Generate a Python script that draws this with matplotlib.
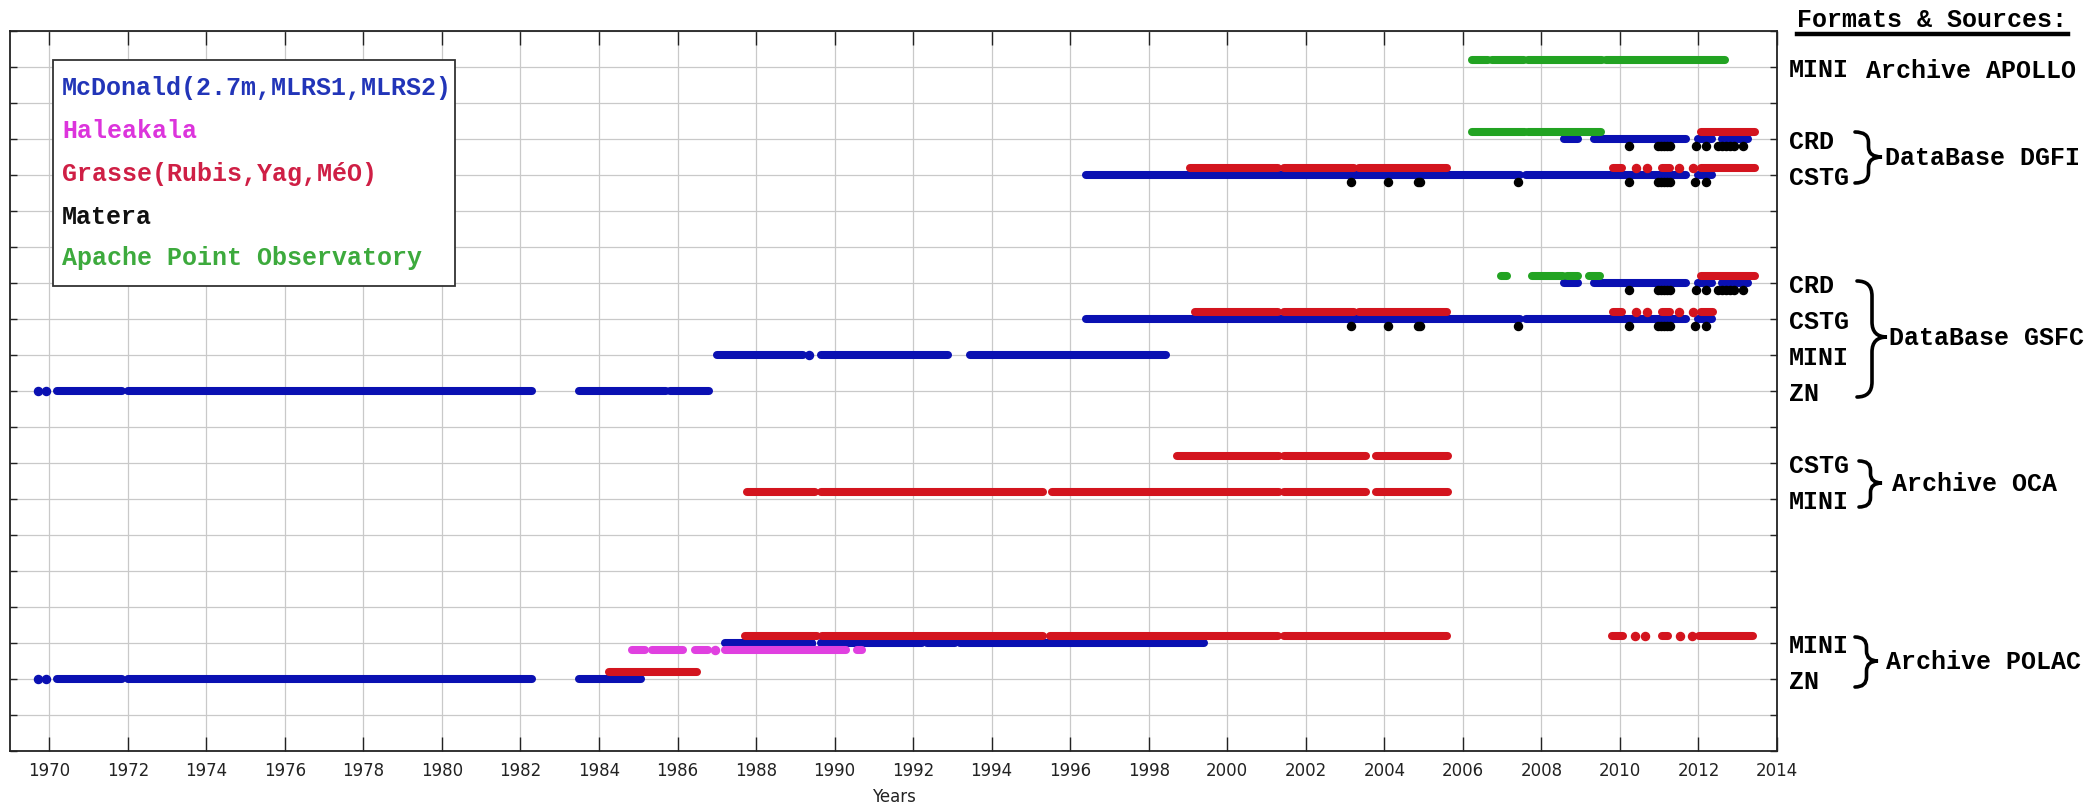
import matplotlib
matplotlib.use('Agg')
import matplotlib.pyplot as plt
from matplotlib.path import Path
from matplotlib.patches import PathPatch, Rectangle
from matplotlib.transforms import Affine2D

# ---------------- data ----------------
# row (y) position of each format/source line
row_apollo_mini = 19
row_dgfi_crd = 17
row_dgfi_cstg = 16
row_gsfc_crd = 13
row_gsfc_cstg = 12
row_gsfc_mini = 11
row_gsfc_zn = 10
row_oca_cstg = 8
row_oca_mini = 7
row_polac_mini = 3
row_polac_zn = 2

stations = ['McDonald(2.7m,MLRS1,MLRS2)', 'Haleakala', 'Grasse(Rubis,Yag,MéO)',
            'Matera', 'Apache Point Observatory']
station_offset = [0.0, -0.2, 0.2, -0.2, 0.2]

# McDonald (blue) : observation spans (start, end) and single points
mcd_gsfc_zn = [(1970.19, 1971.86), (1972.0, 1982.3), (1983.5, 1985.7), (1985.8, 1986.8)]
mcd_gsfc_zn_pts = [1969.71, 1969.92]
mcd_polac_zn = [(1970.19, 1971.86), (1972.0, 1982.3), (1983.5, 1985.08)]
mcd_polac_zn_pts = [1969.71, 1969.92]
mcd_gsfc_mini = [(1987.0, 1989.2), (1989.65, 1992.9), (1993.45, 1998.45)]
mcd_gsfc_mini_pts = [1989.35]
mcd_polac_mini = [(1987.22, 1989.3), (1989.65, 1992.22), (1992.36, 1993.07), (1993.2, 1999.4)]
mcd_polac_mini_pts = [1989.41]
mcd_cstg = [(1996.4, 2007.45), (2007.6, 2011.68), (2011.98, 2012.35)]
mcd_crd = [(2008.57, 2008.94), (2009.33, 2011.68), (2011.98, 2012.35), (2012.59, 2013.26)]

# Haleakala (magenta)
hal_polac_mini = [(1984.84, 1985.16), (1985.35, 1986.13), (1986.45, 1986.78), (1987.22, 1990.3),
                  (1990.56, 1990.69)]
hal_polac_mini_pts = [1986.95]

# Grasse (red)
gra_dgfi_cstg = [(1999.06, 2001.3), (2001.44, 2003.22), (2003.35, 2005.6), (2009.82, 2010.05),
                 (2011.08, 2011.28), (2012.06, 2013.44)]
gra_dgfi_cstg_pts = [2010.4, 2010.7, 2011.5, 2011.87]
gra_dgfi_crd = [(2012.06, 2013.44)]
gra_gsfc_cstg = [(1999.17, 2001.3), (2001.44, 2003.22), (2003.35, 2005.6), (2009.82, 2010.05),
                 (2011.08, 2011.28), (2012.06, 2012.38)]
gra_gsfc_cstg_pts = [2010.4, 2010.7, 2011.5, 2011.87]
gra_gsfc_crd = [(2012.06, 2013.44)]
gra_oca_cstg = [(1998.71, 2001.32), (2001.44, 2003.54), (2003.8, 2005.62)]
gra_oca_mini = [(1987.76, 1989.51), (1989.66, 1995.32), (1995.53, 2001.32), (2001.44, 2003.54),
                (2003.8, 2005.62)]
gra_polac_mini = [(1987.73, 1989.54), (1989.68, 1995.32), (1995.49, 2001.29), (2001.45, 2005.6),
                  (2009.8, 2010.07), (2011.06, 2011.23), (2012.01, 2013.39)]
gra_polac_mini_pts = [2010.38, 2010.65, 2011.52, 2011.83]
gra_polac_zn = [(1984.25, 1986.5)]

# Matera (black) : single points
mat_cstg_pts = [2003.14, 2004.09, 2004.86, 2004.92, 2007.4, 2010.23, 2010.97, 2011.05, 2011.12,
                2011.2, 2011.27, 2011.9, 2012.2]
mat_crd_pts = [2010.23, 2010.97, 2011.05, 2011.12, 2011.2, 2011.27, 2011.93, 2012.2, 2012.5,
               2012.6, 2012.7, 2012.8, 2012.9, 2013.14]

# Apache Point (green)
apo_apollo_mini = [(2006.22, 2006.65), (2006.75, 2007.55), (2007.65, 2009.55), (2009.65, 2012.68)]
apo_dgfi_crd = [(2006.22, 2007.58), (2007.66, 2009.52)]
apo_gsfc_crd = [(2006.97, 2007.13), (2007.77, 2008.55), (2008.65, 2008.93), (2009.2, 2009.48)]

# right-hand labels
format_labels = [('MINI', row_apollo_mini), ('CRD', row_dgfi_crd), ('CSTG', row_dgfi_cstg),
                 ('CRD', row_gsfc_crd), ('CSTG', row_gsfc_cstg), ('MINI', row_gsfc_mini),
                 ('ZN', row_gsfc_zn), ('CSTG', row_oca_cstg), ('MINI', row_oca_mini),
                 ('MINI', row_polac_mini), ('ZN', row_polac_zn)]
years_ticks = list(range(1970, 2015, 2))

# ---------------- style ----------------
W, H = 2088, 803
c_blue = '#0a10b2'
c_mag = '#e040e0'
c_red = '#d3141e'
c_black = '#000000'
c_green = '#22a322'
legend_colors = ['#2235b8', '#dc34dc', '#cf1f45', '#111111', '#3daa3d']
mono = ['Liberation Mono', 'DejaVu Sans Mono']
FS = 18

fig = plt.figure(figsize=(W / 100, H / 100), dpi=100)
ax_l, ax_r, ax_t, ax_b = 10, 1777, 32, 752
ax = fig.add_axes([ax_l / W, 1 - ax_b / H, (ax_r - ax_l) / W, (ax_b - ax_t) / H])
ax.set_xlim(1969, 2014)
ax.set_ylim(0, 20)
ax.set_xticks(years_ticks)
ax.set_yticks(range(0, 21))
ax.set_yticklabels([])
ax.grid(True, color='#c9c9c9', linewidth=0.9)
ax.set_axisbelow(True)
ax.tick_params(axis='x', direction='in', top=True, length=10, width=1.0, labelsize=12,
               pad=7, colors='#222222')
ax.tick_params(axis='y', direction='in', right=True, left=True, length=5, width=1.0,
               colors='#222222')
for s in ax.spines.values():
    s.set_linewidth(1.3)
    s.set_color('#222222')
ax.set_xlabel('Years', fontsize=12, labelpad=6, color='#222222')

LW = 5.8
MS = 5.8


def spans(seg, row, k, color):
    y = row + station_offset[k]
    ax.hlines([y] * len(seg), [a for a, b in seg], [b for a, b in seg], colors=color,
              linewidth=LW, capstyle='round', zorder=3 + k * 0.1)


def points(xs, row, k, color):
    y = row + station_offset[k]
    ax.plot(xs, [y] * len(xs), 'o', color=color, mec=color, ms=MS, zorder=3 + k * 0.1)


# McDonald
spans(mcd_gsfc_zn, row_gsfc_zn, 0, c_blue); points(mcd_gsfc_zn_pts, row_gsfc_zn, 0, c_blue)
spans(mcd_polac_zn, row_polac_zn, 0, c_blue); points(mcd_polac_zn_pts, row_polac_zn, 0, c_blue)
spans(mcd_gsfc_mini, row_gsfc_mini, 0, c_blue); points(mcd_gsfc_mini_pts, row_gsfc_mini, 0, c_blue)
spans(mcd_polac_mini, row_polac_mini, 0, c_blue); points(mcd_polac_mini_pts, row_polac_mini, 0, c_blue)
spans(mcd_cstg, row_dgfi_cstg, 0, c_blue); spans(mcd_cstg, row_gsfc_cstg, 0, c_blue)
spans(mcd_crd, row_dgfi_crd, 0, c_blue); spans(mcd_crd, row_gsfc_crd, 0, c_blue)
# Haleakala
spans(hal_polac_mini, row_polac_mini, 1, c_mag); points(hal_polac_mini_pts, row_polac_mini, 1, c_mag)
# Grasse
spans(gra_dgfi_cstg, row_dgfi_cstg, 2, c_red); points(gra_dgfi_cstg_pts, row_dgfi_cstg, 2, c_red)
spans(gra_dgfi_crd, row_dgfi_crd, 2, c_red)
spans(gra_gsfc_cstg, row_gsfc_cstg, 2, c_red); points(gra_gsfc_cstg_pts, row_gsfc_cstg, 2, c_red)
spans(gra_gsfc_crd, row_gsfc_crd, 2, c_red)
spans(gra_oca_cstg, row_oca_cstg, 2, c_red)
spans(gra_oca_mini, row_oca_mini, 2, c_red)
spans(gra_polac_mini, row_polac_mini, 2, c_red); points(gra_polac_mini_pts, row_polac_mini, 2, c_red)
spans(gra_polac_zn, row_polac_zn, 2, c_red)
# Matera
points(mat_cstg_pts, row_dgfi_cstg, 3, c_black); points(mat_cstg_pts, row_gsfc_cstg, 3, c_black)
points(mat_crd_pts, row_dgfi_crd, 3, c_black); points(mat_crd_pts, row_gsfc_crd, 3, c_black)
# Apache Point
spans(apo_apollo_mini, row_apollo_mini, 4, c_green)
spans(apo_dgfi_crd, row_dgfi_crd, 4, c_green)
spans(apo_gsfc_crd, row_gsfc_crd, 4, c_green)

# ---------------- annotations (pixel coordinates, origin top-left) ----------------
pix = Affine2D().scale(1 / W, -1 / H).translate(0, 1) + fig.transFigure


def row_px(v):
    return ax_b - (ax_b - ax_t) * v / 20.0


# legend box
fig.patches.append(Rectangle((53, 61), 402, 226, transform=pix, fill=True, facecolor='white',
                             edgecolor='#333333', linewidth=1.3, zorder=10))
legend_y = [88, 131, 174, 217, 258]
for name, col, yy in zip(stations, legend_colors, legend_y):
    fig.text(62, yy, name, transform=pix, color=col, fontsize=FS, family=mono,
             fontweight='bold', va='center', ha='left', zorder=11)

# title at top right
fig.text(1797, 20, 'Formats & Sources:', transform=pix, fontsize=FS, family=mono,
         fontweight='bold', va='center', ha='left')
fig.lines.append(plt.Line2D([1797, 2068], [35, 35], transform=pix, color='black', linewidth=3.2))

# format labels
for lab, v in format_labels:
    fig.text(1789, row_px(v) + 2, lab, transform=pix, fontsize=FS, family=mono,
             fontweight='bold', va='center', ha='left')

fig.text(1866, row_px(row_apollo_mini) + 3, 'Archive APOLLO', transform=pix, fontsize=FS,
         family=mono, fontweight='bold', va='center', ha='left')


def brace(x0, x1, ytop, ybot, ymid):
    r = min((x1 - x0) * 0.5, (ybot - ytop) / 5.0)
    xm = (x0 + x1) / 2.0
    verts = [(x0, ytop), (xm, ytop), (xm, ytop + r), (xm, ymid - r), (xm, ymid), (x1, ymid),
             (xm, ymid), (xm, ymid + r), (xm, ybot - r), (xm, ybot), (x0, ybot)]
    codes = [Path.MOVETO, Path.CURVE3, Path.CURVE3, Path.LINETO, Path.CURVE3, Path.CURVE3,
             Path.CURVE3, Path.CURVE3, Path.LINETO, Path.CURVE3, Path.CURVE3]
    fig.patches.append(PathPatch(Path(verts, codes), transform=pix, fill=False,
                                 edgecolor='black', linewidth=2.6, capstyle='round'))


groups = [('DataBase DGFI', 1855, 1882, 133, 184, 158, 1885),
          ('DataBase GSFC', 1857, 1887, 282, 398, 338, 1889),
          ('Archive OCA', 1859, 1882, 462, 508, 484, 1892),
          ('Archive POLAC', 1855, 1878, 638, 688, 662, 1886)]
for name, x0, x1, yt, yb, ym, xt in groups:
    brace(x0, x1, yt, yb, ym)
    fig.text(xt, ym, name, transform=pix, fontsize=FS, family=mono, fontweight='bold',
             va='center', ha='left')

fig.savefig('out.png', dpi=100, facecolor='white')
